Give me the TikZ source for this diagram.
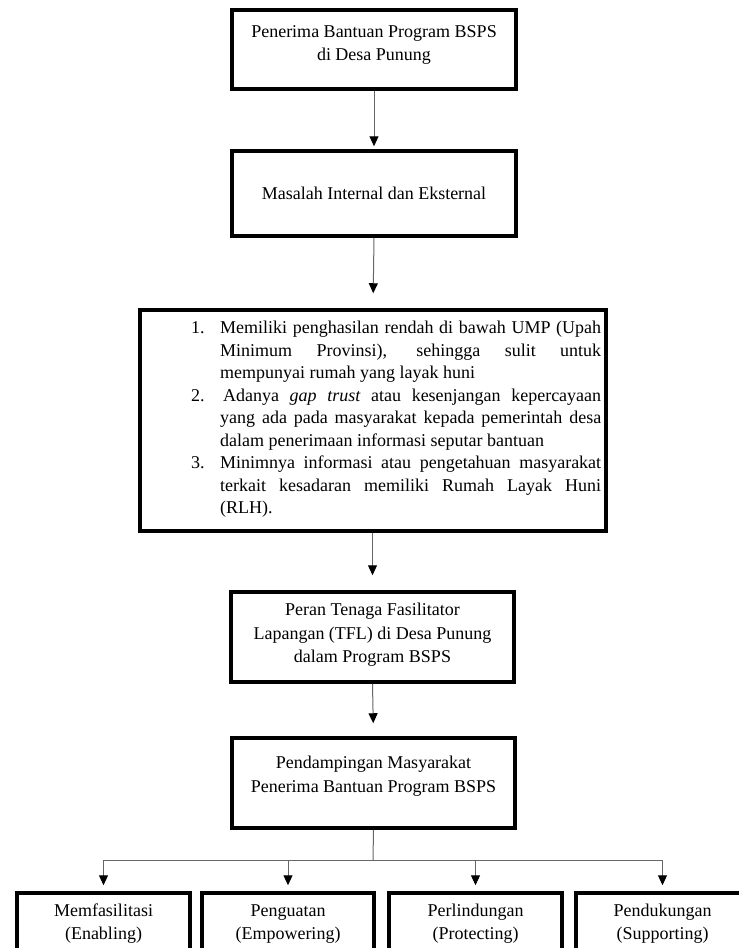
\documentclass[tikz,border=0pt]{standalone}
\usepackage{fontspec}
\setmainfont{Liberation Serif}
\usetikzlibrary{arrows.meta}
\begin{document}
\begin{tikzpicture}[x=1pt,y=-1pt,
  box/.style={draw=black, line width=3.5pt, fill=white, inner sep=0pt},
  txt/.style={align=center, font=\fontsize{18}{23.5}\selectfont, inner sep=0pt, text=black},
  conn/.style={draw=black!60, line width=1pt},
  arr/.style={conn, -{Triangle[width=9pt,length=10pt,black]}}
]
\useasboundingbox (0,0) rectangle (739,948);
\clip (0,0) rectangle (739,948);
\fill[white] (0,0) rectangle (739,948);

% boxes
\node[box, minimum width=284pt, minimum height=79pt] (b1) at (374,49.5) {};
\node[box, minimum width=284pt, minimum height=85pt] (b2) at (374,193.5) {};
\node[box, minimum width=466pt, minimum height=221pt] (b3) at (373,420.5) {};
\node[box, minimum width=283pt, minimum height=90pt] (b4) at (372.5,637) {};
\node[box, minimum width=283pt, minimum height=90pt] (b5) at (373.5,783) {};
\node[box, minimum width=173pt, minimum height=100pt] (c1) at (103.5,943) {};
\node[box, minimum width=172pt, minimum height=100pt] (c2) at (288,943) {};
\node[box, minimum width=173pt, minimum height=100pt] (c3) at (475.5,943) {};
\node[box, minimum width=173pt, minimum height=100pt] (c4) at (662.5,943) {};

% texts
\node[txt] (t1) at (374,45) {Penerima Bantuan Program BSPS\\di Desa Punung};
\node[txt] (t2) at (374,193) {Masalah Internal dan Eksternal};
\node[txt, anchor=north west] (t3) at (191,321) {%
\begin{minipage}{410pt}\fontsize{18}{22.5}\selectfont\setlength{\parindent}{0pt}%
\hangindent=29pt\hangafter=1\makebox[29pt][l]{1.}Memiliki penghasilan rendah di bawah UMP (Upah\linebreak Minimum Provinsi), sehingga sulit untuk\linebreak mempunyai rumah yang layak huni\par
\hangindent=29pt\hangafter=1\makebox[29pt][l]{2.}\,Adanya \textit{gap trust} atau kesenjangan kepercayaan\linebreak yang ada pada masyarakat kepada pemerintah desa\linebreak dalam penerimaan informasi seputar bantuan\par
\hangindent=29pt\hangafter=1\makebox[29pt][l]{3.}Minimnya informasi atau pengetahuan masyarakat\linebreak terkait kesadaran memiliki Rumah Layak Huni\linebreak (RLH).\par
\end{minipage}};
\node[txt] (t4) at (372.5,635) {Peran Tenaga Fasilitator\\Lapangan (TFL) di Desa Punung\\dalam Program BSPS};
\node[txt] (t5) at (373.5,776) {Pendampingan Masyarakat\\Penerima Bantuan Program BSPS};
\node[txt] (s1) at (103.5,923.5) {\strut Memfasilitasi\\\strut(Enabling)};
\node[txt] (s2) at (288,923.5) {\strut Penguatan\\\strut(Empowering)};
\node[txt] (s3) at (475.5,923.5) {\strut Perlindungan\\\strut(Protecting)};
\node[txt] (s4) at (662.5,923.5) {\strut Pendukungan\\\strut(Supporting)};

% connectors
\draw[arr, shorten >=3pt] (b1.south) -- (b2.north);
\draw[arr, shorten >=15pt] (b2.south) -- (b3.north);
\draw[arr, shorten >=15pt] (b3.south -| b4.north) -- (b4.north);
\draw[arr, shorten >=13pt] (b4.south) -- (b5.north);
\coordinate (j) at (373,860);
\draw[conn] (b5.south) -- (j);
\draw[conn] (c1.north |- j) -- (c4.north |- j);
\foreach \c in {c1,c2,c3,c4}{
  \draw[arr, shorten >=6pt] (\c.north |- j) -- (\c.north);
}
\end{tikzpicture}
\end{document}
